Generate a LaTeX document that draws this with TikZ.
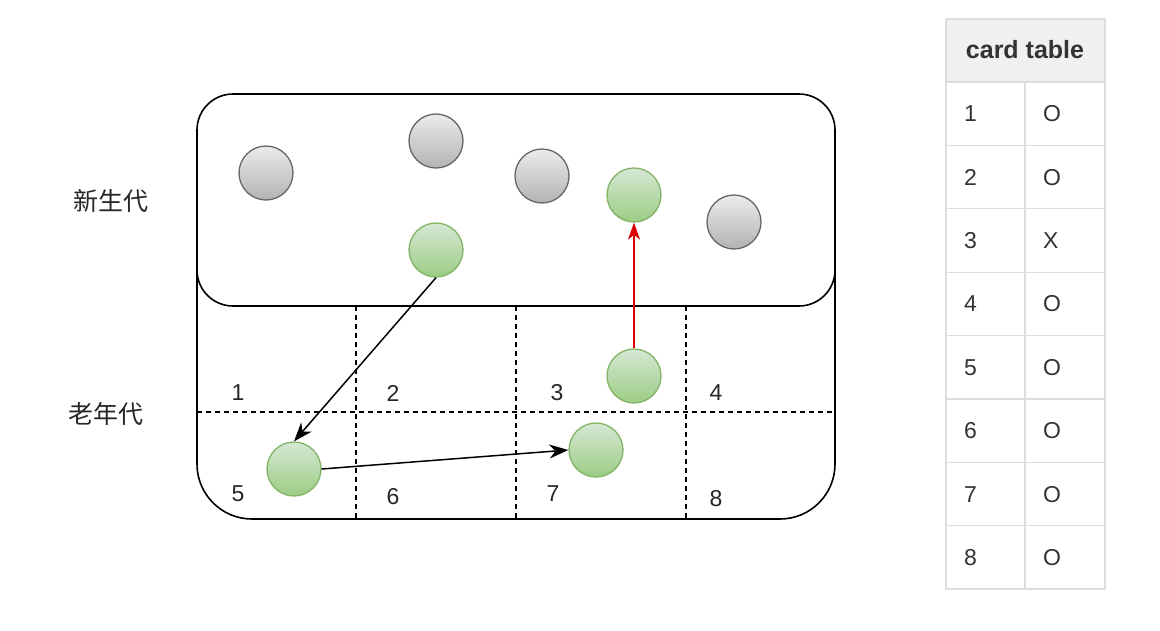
\documentclass[tikz,border=0pt]{standalone}
\usepackage{fontspec}
\setmainfont{Liberation Sans}
\newfontfamily\cjk{Noto Sans CJK SC}
\usetikzlibrary{arrows.meta}

\definecolor{liveline}{HTML}{82B366}
\definecolor{livetop}{HTML}{D5E8D4}
\definecolor{livebot}{HTML}{9CCC84}
\definecolor{deadline}{HTML}{666666}
\definecolor{deadtop}{HTML}{EBEBEB}
\definecolor{deadbot}{HTML}{B3B3B3}
\definecolor{gridline}{HTML}{DDDDDD}
\definecolor{headfill}{HTML}{F0F0F0}
\definecolor{txt}{HTML}{333333}

\begin{document}
\begin{tikzpicture}[x = 1pt, y = -1pt,
		obj/.style = {circle, minimum size = 54pt, inner sep = 0pt, line width = 1.3pt},
		deadobj/.style = {obj, draw = deadline, top color = deadtop, bottom color = deadbot},
		liveobj/.style = {obj, draw = liveline, top color = livetop, bottom color = livebot},
		cellnum/.style = {text = black!85, font = \fontsize{23}{28}\selectfont},
		genname/.style = {text = black!85, font = \cjk\fontsize{25}{28}\selectfont},
		tabtext/.style = {text = txt, anchor = west, inner sep = 0pt, font = \fontsize{23}{28}\selectfont},
		tabline/.style = {draw = gridline, line width = 1.2pt}]
		\useasboundingbox (0, 0) rectangle (1160, 630);
		% old generation and its cards
		\draw [line width = 1.6pt, rounded corners = 55pt] (197, 150) rectangle (835, 519);
		\draw [dashed, line width = 1.3pt, dash pattern = on 5pt off 4pt] (197, 412) -- (835, 412);
		\foreach \x in {356, 516, 686}
			\draw [dashed, line width = 1.3pt, dash pattern = on 5pt off 4pt] (\x, 306) -- (\x, 519);
		% young generation
		\draw [fill = white, line width = 1.6pt, rounded corners = 36pt] (197, 94) rectangle (835, 306);
		\node [genname] (young) at (111, 201) {新生代};
		\node [genname] (old) at (106, 414) {老年代};
		\foreach \n/\x/\y in {1/238/393, 2/393/393, 3/557/393, 4/716/393,
			5/238/494, 6/393/497, 7/553/494, 8/716/499}
			\node [cellnum] (c\n) at (\x, \y) {\n};
		% objects
		\node [deadobj] (d1) at (266, 173) {};
		\node [deadobj] (d2) at (436, 141) {};
		\node [deadobj] (d3) at (542, 176) {};
		\node [deadobj] (d4) at (734, 222) {};
		\node [liveobj] (y1) at (634, 195) {};
		\node [liveobj] (y2) at (436, 250) {};
		\node [liveobj] (o3) at (634, 376) {};
		\node [liveobj] (o5) at (294, 469) {};
		\node [liveobj] (o7) at (596, 450) {};
		\draw [-{Stealth[length=19pt,width=14pt,inset=6pt]}, line width = 1.5pt] (y2.south) -- (o5.north);
		\draw [-{Stealth[length=19pt,width=14pt,inset=6pt]}, line width = 1.5pt] (o5.east) -- (o7.west);
		\draw [-{Stealth[length=17pt,width=12pt,inset=5pt]}, red!85!black, line width = 1.1pt] (o3.north) -- (y1.south);
		% card table
		\draw [tabline, fill = headfill] (946, 19) rectangle (1105, 82);
		\node [text = txt, font = \bfseries\fontsize{25}{28}\selectfont] (head) at (1025, 50) {card table};
		\draw [tabline] (946, 82) rectangle (1105, 589);
		\draw [tabline] (1025, 82) -- (1025, 589);
		\foreach \k in {1, ..., 7}
			\draw [tabline] (946, 82 + \k * 63.4) -- (1105, 82 + \k * 63.4);
		\foreach \i/\v in {1/O, 2/O, 3/X, 4/O, 5/O, 6/O, 7/O, 8/O} {
			\node [tabtext] (idx\i) at (964, 82 + \i * 63.4 - 31.7) {\i};
			\node [tabtext] (val\i) at (1043, 82 + \i * 63.4 - 31.7) {\v};
		}
	\end{tikzpicture}
\end{document}
